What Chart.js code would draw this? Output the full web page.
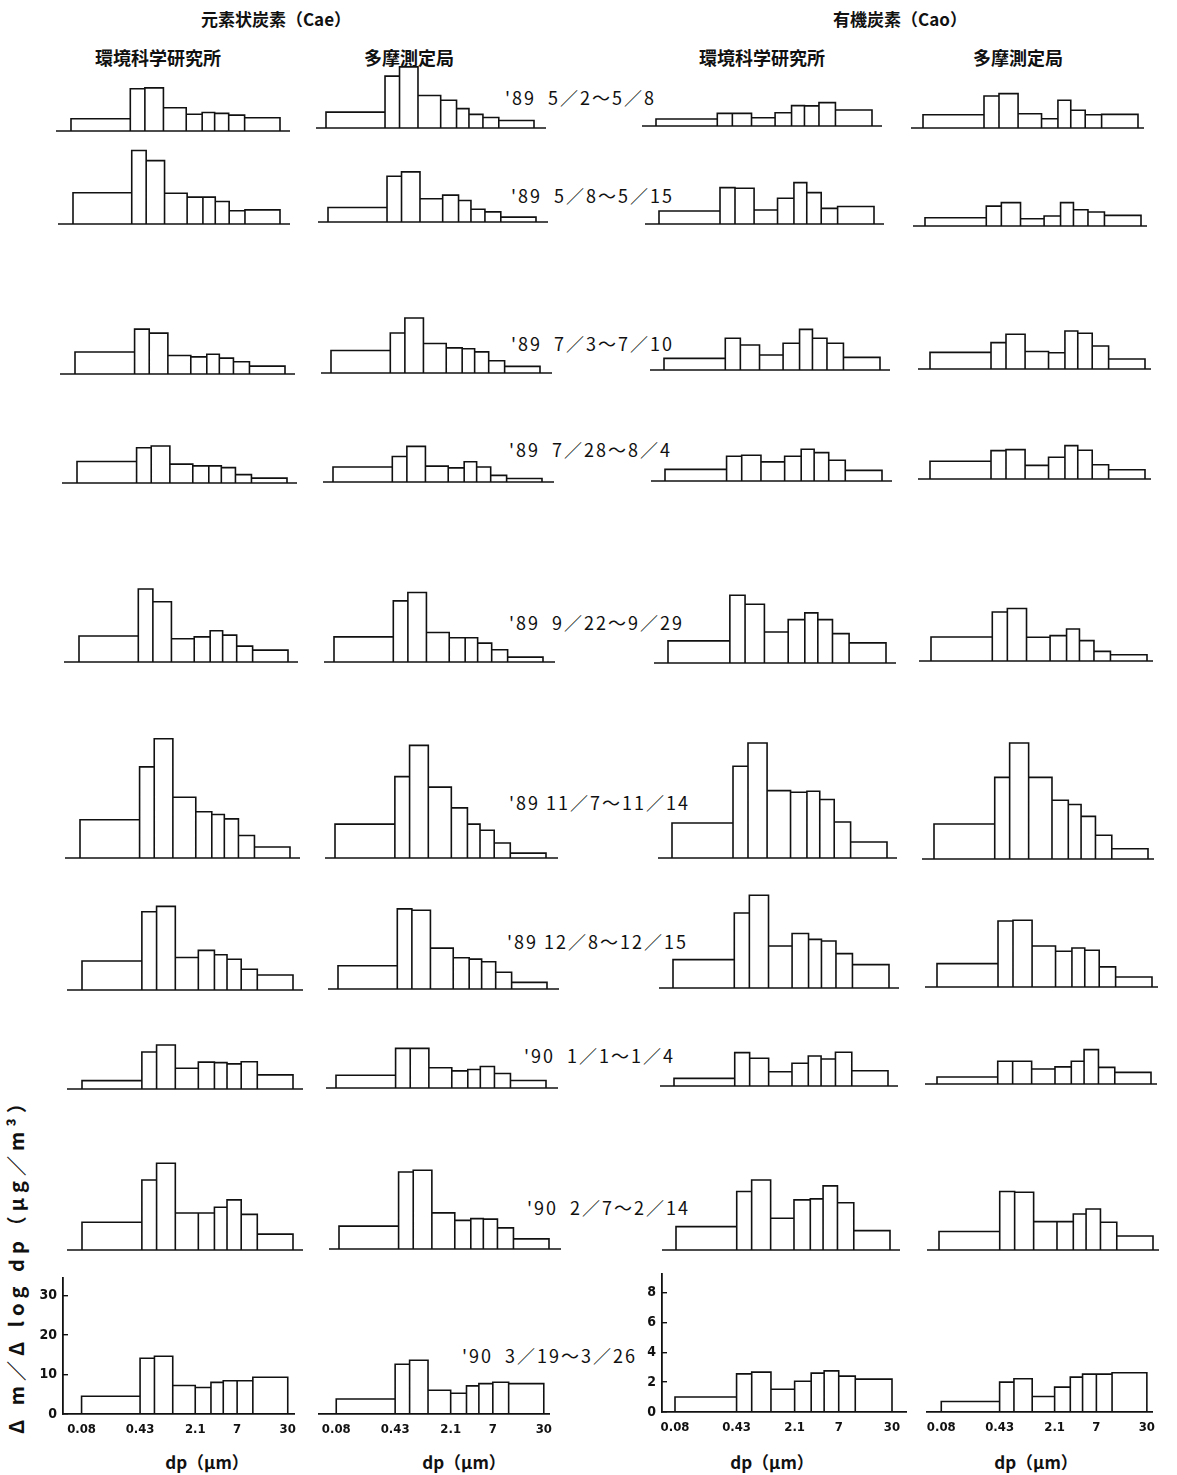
<!DOCTYPE html>
<html>
<head>
<meta charset="utf-8">
<script src="https://cdn.jsdelivr.net/npm/chart.js@4/dist/chart.umd.min.js"></script>
<style>
  body { margin: 0; background: #fff; }
  #page { position: relative; width: 1177px; height: 1475px; overflow: hidden; color: #111;
          font-family: "Noto Sans CJK JP", sans-serif; }
  #page canvas { position: absolute; }
  .txt { position: absolute; white-space: pre; line-height: 1; }
  .head { font-size: 17px; font-weight: 700; transform: translateX(-50%); }
  .sub { font-size: 18px; font-weight: 700; transform: translateX(-50%); }
  .period { font-size: 18px; letter-spacing: 2px; }
  .xtitle { font-size: 17px; font-weight: 700; transform: translateX(-50%); }
  .ytitle { font-size: 20px; font-weight: 700; letter-spacing: 5px; transform-origin: left top; transform: rotate(-90deg); }
</style>
</head>
<body>
<div id="page"></div>
<script>
// Andersen sampler stage cut-offs (µm): backup filter, 8 stages, top inlet
const binEdges = [0.08, 0.43, 0.65, 1.1, 2.1, 3.3, 4.7, 7.0, 11, 30];
const xTickValues = [0.08, 0.43, 2.1, 7, 30];
const caeTicks = [0, 10, 20, 30];
const caoTicks = [0, 2, 4, 6, 8];

const periods = [
  "'89  5／2～5／8", "'89  5／8～5／15", "'89  7／3～7／10", "'89  7／28～8／4",
  "'89  9／22～9／29", "'89 11／7～11／14", "'89 12／8～12／15", "'90  1／1～1／4",
  "'90  2／7～2／14", "'90  3／19～3／26"
];

// Δm/Δlog dp (µg/m³) per stage, one row per sampling period
const caeKankyo = [
  [2.8, 9.6, 9.8, 5.3, 3.8, 4.2, 4.0, 3.6, 3.0],
  [7.1, 16.7, 14.4, 7.0, 6.1, 6.1, 5.1, 3.0, 3.2],
  [5.0, 10.2, 9.3, 4.2, 3.9, 4.5, 3.6, 2.8, 1.8],
  [4.9, 8.0, 8.4, 4.3, 3.9, 3.9, 3.5, 1.9, 1.1],
  [5.9, 16.6, 13.7, 5.3, 5.7, 7.1, 6.1, 3.6, 2.7],
  [8.7, 20.7, 27.1, 13.8, 10.5, 9.9, 8.9, 5.1, 2.5],
  [6.6, 17.8, 19.0, 7.4, 9.0, 8.0, 7.0, 4.7, 3.4],
  [1.9, 8.4, 10.0, 4.7, 6.1, 6.0, 5.7, 6.2, 3.2],
  [6.3, 15.9, 19.7, 8.4, 8.4, 9.7, 11.4, 8.1, 3.6],
  [4.5, 14.1, 14.6, 7.2, 6.7, 8.0, 8.4, 8.4, 9.3]
];
const caeTama = [
  [3.6, 11.8, 13.9, 7.4, 6.3, 4.4, 3.1, 2.4, 1.7],
  [3.3, 10.4, 11.4, 5.3, 6.1, 4.9, 2.9, 2.3, 1.1],
  [5.1, 9.1, 12.5, 6.7, 5.7, 5.5, 4.8, 2.8, 1.5],
  [3.4, 5.8, 8.1, 3.6, 3.2, 4.6, 3.4, 1.5, 0.8],
  [5.7, 13.9, 15.8, 6.7, 5.5, 5.5, 4.3, 2.8, 1.1],
  [7.7, 18.5, 25.6, 16.1, 11.4, 7.7, 6.3, 3.4, 1.1],
  [5.3, 18.2, 17.9, 9.3, 7.1, 6.8, 6.2, 3.8, 1.5],
  [2.9, 9.0, 9.0, 4.6, 3.9, 4.2, 4.9, 3.3, 1.7],
  [5.2, 17.5, 17.9, 8.2, 6.5, 6.9, 6.8, 4.8, 2.3],
  [3.4, 11.3, 12.2, 5.4, 4.7, 6.4, 6.9, 7.2, 6.9]
];
const caoKankyo = [
  [0.42, 0.76, 0.76, 0.50, 0.80, 1.23, 1.21, 1.41, 0.96],
  [0.78, 2.19, 2.15, 0.84, 1.55, 2.49, 1.89, 0.94, 1.05],
  [0.70, 1.91, 1.51, 0.90, 1.61, 2.45, 1.91, 1.61, 0.76],
  [0.70, 1.49, 1.55, 1.15, 1.49, 1.91, 1.71, 1.25, 0.64],
  [1.33, 4.08, 3.54, 1.87, 2.61, 3.02, 2.61, 1.77, 1.21],
  [2.11, 5.53, 6.93, 4.06, 3.96, 4.02, 3.52, 2.17, 0.96],
  [1.71, 4.52, 5.59, 2.53, 3.28, 2.93, 2.83, 2.07, 1.41],
  [0.46, 2.01, 1.67, 0.86, 1.37, 1.81, 1.63, 2.03, 0.92],
  [1.41, 3.52, 4.22, 1.91, 3.02, 3.08, 3.86, 2.85, 1.17],
  [1.00, 2.55, 2.67, 1.52, 2.06, 2.60, 2.75, 2.40, 2.20]
];
const caoTama = [
  [0.80, 1.93, 2.07, 0.86, 0.56, 1.67, 1.07, 0.80, 0.82],
  [0.50, 1.20, 1.41, 0.44, 0.60, 1.41, 0.98, 0.84, 0.64],
  [1.00, 1.59, 2.09, 1.05, 0.98, 2.29, 2.15, 1.39, 0.60],
  [1.07, 1.71, 1.77, 0.82, 1.31, 2.01, 1.73, 0.86, 0.56],
  [1.45, 2.95, 3.16, 1.43, 1.53, 1.93, 1.23, 0.58, 0.38],
  [2.11, 4.92, 6.99, 4.92, 3.54, 3.28, 2.57, 1.43, 0.62],
  [1.41, 3.98, 4.02, 2.47, 2.15, 2.35, 2.21, 1.21, 0.60],
  [0.42, 1.37, 1.37, 0.90, 1.03, 1.37, 2.07, 1.00, 0.70],
  [1.11, 3.52, 3.48, 1.71, 1.71, 2.17, 2.47, 1.67, 0.84],
  [0.63, 1.80, 2.00, 0.93, 1.50, 2.10, 2.28, 2.28, 2.36]
];
const columns = [caeKankyo, caeTama, caoKankyo, caoTama];

// page layout: baseline y, and x of the 0.08 and 30 µm edges, per row and column
const baseY = [
  [131, 128, 126, 128], [224, 222, 224, 226], [374, 373, 370, 369], [483, 482, 481, 479],
  [662, 662, 663, 661], [858, 858, 858, 859], [990, 989, 988, 987], [1089, 1088, 1086, 1084],
  [1250, 1249, 1250, 1250], [1414, 1414, 1412, 1412]
];
const edgeLeft = [
  [71, 326, 656, 923], [73, 328, 659, 925], [75, 331, 664, 930], [77, 333, 665, 930],
  [79, 334, 668, 931], [80, 335, 672, 934], [82, 338, 673, 937], [82, 336, 674, 937],
  [82, 339, 676, 939], [82, 336, 675, 938]
];
const edgeRight = [
  [280, 534, 872, 1138], [280, 536, 874, 1141], [285, 540, 880, 1145], [287, 542, 882, 1145],
  [288, 543, 886, 1147], [290, 546, 887, 1148], [293, 547, 889, 1152], [293, 546, 888, 1151],
  [293, 549, 890, 1153], [293, 550, 892, 1153]
];
const lineExtL = [15, 10, 14, 12];
const lineExtR = [10, 12, 10, 6];
const axisLeft = [63, 318, 662, 923];
const axisRight = [300, 556, 906, 1159];

const ink = '#111';
const tickFont = { family: "'Liberation Sans Narrow', 'DejaVu Sans Condensed', 'DejaVu Sans', sans-serif", size: 13, weight: 'bold' };
const page = document.getElementById('page');

function outline(vals) {
  const pts = [];
  vals.forEach((v, i) => {
    pts.push({ x: binEdges[i], y: 0 }, { x: binEdges[i], y: v },
             { x: binEdges[i + 1], y: v }, { x: binEdges[i + 1], y: 0 });
  });
  return pts;
}

function addPanel(col, row) {
  const isCae = col < 2;
  const ppu = isCae ? 4.4 : 16.6;          // px per µg/m³
  const last = row === periods.length - 1;
  const L = edgeLeft[row][col], R = edgeRight[row][col];
  const k = (R - L) / Math.log10(binEdges[9] / binEdges[0]);
  const base = baseY[row][col];

  let areaL, areaR, areaTop;
  if (last) {
    areaL = axisLeft[col]; areaR = axisRight[col];
    areaTop = base - (isCae ? 152 : 154);
  } else {
    areaL = L - lineExtL[col]; areaR = R + lineExtR[col];
    areaTop = base - 135;
  }
  const xMin = binEdges[0] * Math.pow(10, (areaL - L) / k);
  const xMax = binEdges[9] * Math.pow(10, (areaR - R) / k);
  const yMax = (base - areaTop) / ppu;

  const showY = last && (col === 0 || col === 2);
  const yAxisW = showY ? 34 : 0;
  const xAxisH = last ? 30 : 0;
  const padL = showY ? 0 : 4, padR = 4, padT = 4, padB = last ? 0 : 4;

  const cv = document.createElement('canvas');
  const w = padL + yAxisW + (areaR - areaL) + padR;
  const h = padT + (base - areaTop) + xAxisH + padB;
  cv.width = w; cv.height = h;
  cv.style.left = (areaL - yAxisW - padL) + 'px';
  cv.style.top = (areaTop - padT) + 'px';
  page.appendChild(cv);

  const datasets = [{
    data: outline(columns[col][row]),
    borderColor: ink, borderWidth: 1.6, pointRadius: 0, fill: false, tension: 0, clip: false
  }];
  if (!last) {
    datasets.unshift({
      data: [{ x: xMin, y: 0 }, { x: xMax, y: 0 }],
      borderColor: ink, borderWidth: 1.6, pointRadius: 0, fill: false, clip: false
    });
  }

  new Chart(cv.getContext('2d'), {
    type: 'line',
    data: { datasets },
    options: {
      responsive: false, animation: false, events: [],
      layout: { padding: { left: padL, right: padR, top: padT, bottom: padB } },
      plugins: { legend: { display: false }, tooltip: { enabled: false } },
      scales: {
        x: {
          type: 'logarithmic', min: xMin, max: xMax, display: last,
          border: { display: true, color: ink, width: 1.8 },
          grid: { drawOnChartArea: false, drawTicks: false },
          afterBuildTicks: s => { s.ticks = xTickValues.map(v => ({ value: v })); },
          afterFit: s => { s.height = xAxisH; },
          ticks: { autoSkip: false, maxRotation: 0, padding: 8, color: ink, font: tickFont,
                   callback: v => String(v) }
        },
        y: {
          type: 'linear', min: 0, max: yMax, display: showY,
          border: { display: true, color: ink, width: 1.8 },
          grid: { drawOnChartArea: false, drawTicks: true, tickLength: -5, color: ink, lineWidth: 1.4 },
          afterBuildTicks: s => { s.ticks = (isCae ? caeTicks : caoTicks).map(v => ({ value: v })); },
          afterFit: s => { s.width = yAxisW; },
          ticks: { padding: 11, color: ink, font: { ...tickFont, size: 14 } }
        }
      }
    }
  });
}

function addText(cls, text, x, y) {
  const d = document.createElement('div');
  d.className = 'txt ' + cls;
  d.textContent = text;
  d.style.left = x + 'px';
  d.style.top = y + 'px';
  page.appendChild(d);
  return d;
}

addText('head', '元素状炭素（Cae）', 276, 10);
addText('head', '有機炭素（Cao）', 900, 10);
addText('sub', '環境科学研究所', 158, 48);
addText('sub', '多摩測定局', 409, 48);
addText('sub', '環境科学研究所', 762, 48);
addText('sub', '多摩測定局', 1018, 48);

const periodPos = [
  [505, 88], [511, 186], [511, 334], [509, 440], [509, 613],
  [509, 793], [507, 932], [524, 1046], [527, 1198], [462, 1346]
];
periods.forEach((p, i) => addText('period', p, periodPos[i][0], periodPos[i][1]));

[207, 464, 772, 1036].forEach(x => addText('xtitle', 'dp（μm）', x, 1453));
addText('ytitle', 'Δ m／Δ log dp（μg／m³）', 6, 1434);

for (let row = 0; row < periods.length; row++) {
  for (let col = 0; col < 4; col++) addPanel(col, row);
}
</script>
</body>
</html>
